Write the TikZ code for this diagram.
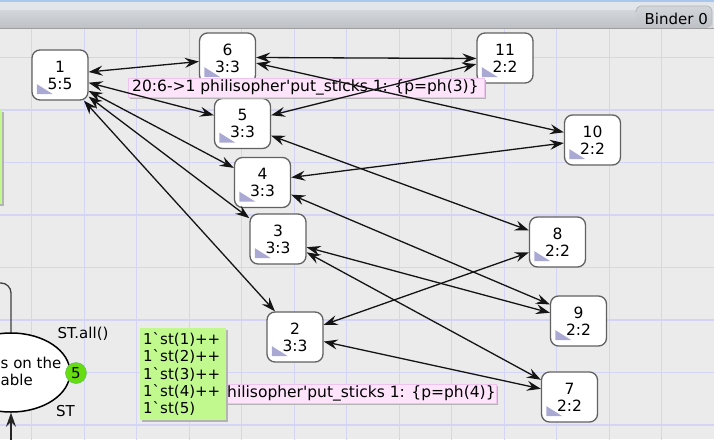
\documentclass[tikz,border=0pt]{standalone}
\usepackage{fontspec}
\newfontfamily\dv{DejaVu Sans}
\usetikzlibrary{arrows.meta,calc,shapes.geometric}
\definecolor{canvas}{HTML}{EBEBEB}
\definecolor{gridc}{HTML}{D4D4F7}
\definecolor{tri}{HTML}{A9A9D4}
\definecolor{pinkf}{HTML}{FDE4FB}
\definecolor{pinkd}{HTML}{EEC4EE}
\definecolor{greenf}{HTML}{C2F98F}
\definecolor{tok}{HTML}{66DD11}
\definecolor{shad}{HTML}{B4B4B4}
\definecolor{barlight}{HTML}{E2E6EB}
\definecolor{bartop}{HTML}{D3D7DB}
\definecolor{barbot}{HTML}{BDC1C6}
\definecolor{bluel}{HTML}{A9C7EC}
\newcommand\mkstate[4]{%
  \node[state] (#1) at (#2,#3) {#4};
  \fill[tri] ($(#1.south west)+(5.5,-6.5)$) -- ++(0,-10) -- ++(16,10) -- cycle;}
\begin{document}
\begin{tikzpicture}[x=1pt,y=-1pt,
  state/.style={draw=black!62, line width=1.3pt, fill=white, rounded corners=8pt,
    minimum width=56pt, minimum height=50pt, inner sep=0pt, align=center,
    font=\dv\fontsize{15.5}{17}\selectfont},
  tip/.tip={Stealth[length=14pt,width=10pt,inset=5pt]},
  link/.style={draw=black!92, line width=1.3pt, tip-tip},
  txt/.style={inner sep=0pt, font=\dv\fontsize{15}{17.3}\selectfont},
  lbl/.style={inner sep=0pt, font=\dv\fontsize{15.5}{17}\selectfont}]
\useasboundingbox (0,0) rectangle (714,439);
\clip (0,0) rectangle (714,439);
% canvas and grid
\fill[canvas] (0,0) rectangle (714,439);
\foreach \i in {0,...,13} {\draw[gridc, line width=1.4pt] ({31.7+52.5*\i},28) -- ++(0,420);}
\foreach \j in {1,...,8} {\draw[gridc, line width=1.4pt] (0,{5+52.5*\j}) -- ++(714,0);}
% title bar
\fill[barlight] (0,0) rectangle (714,28);
\fill[bluel] (0,0) rectangle (714,2);
\shade[top color=bartop, bottom color=barbot] (0,10) rectangle (640,28);
\shade[top color=bartop, bottom color=barbot, rounded corners=5pt] (636,28) -- (636,6) -- (712,6) -- (712,28) -- cycle;
\draw[black!30, line width=0.7pt, rounded corners=5pt] (636,10) -- (636,6) -- (712,6) -- (712,28);
\draw[black!38, line width=0.8pt] (0,28) -- (714,28);
\node[txt, anchor=east] (binder) at (708,19) {Binder 0};
% left strip of a box outside the view
\fill[shad] (-5,112) rectangle (4,206);
\fill[greenf] (-5,110) rectangle (2,204);
% place on the left
\draw[black!75, line width=1.3pt, rounded corners=10pt] (11,333) -- (11,283) -- (-10,283);
\coordinate (below) at (11,445);
\node[draw=black, line width=1.5pt, fill=white, ellipse, minimum width=118pt, minimum height=79pt, inner sep=0pt] (place) at (11,372.5) {};
\draw[black!85, line width=1.2pt, -tip] (below) -- (place.south);
\node[txt, anchor=west] (pl1) at (0.5,363) {s on the};
\node[txt, anchor=west] (pl2) at (0.5,380) {able};
\node[circle, fill=tok, draw=green!55!black!60, line width=0.5pt, minimum size=21pt, inner sep=0pt, font=\dv\fontsize{15}{17}\selectfont] (token) at (76,373) {5};
\node[txt] (stall) at (83,334) {ST.all()};
\node[txt] (st) at (65.5,411) {ST};
% states
\mkstate{n1}{60}{75}{1\\5:5}
\mkstate{n6}{227.5}{58}{6\\3:3}
\mkstate{n11}{505}{58}{11\\2:2}
\mkstate{n5}{242.5}{123.5}{5\\3:3}
\mkstate{n10}{592.5}{140}{10\\2:2}
\mkstate{n4}{262.5}{182.5}{4\\3:3}
\mkstate{n3}{278}{239}{3\\3:3}
\mkstate{n8}{557.5}{242}{8\\2:2}
\mkstate{n2}{295}{337}{2\\3:3}
\mkstate{n9}{578.5}{321}{9\\2:2}
\mkstate{n7}{569.5}{397}{7\\2:2}
% first transition label
\fill[shad] (130,80) rectangle (486,99);
\draw[pinkd, fill=pinkf, line width=0.8pt] (128,78) rectangle (484,97);
\node[lbl, anchor=west] (lab1) at (132,87.5) {20:6->1 philisopher'put\_sticks 1: \{p=ph(3)\}};
% connectors
\draw[link] (n1.6) -- (n6.187);
\draw[link] (n1.-15) -- (n5.164);
\draw[link] (n1.-29) -- (n4.153);
\draw[link] (n1.-37) -- (n3.144);
\draw[link] (n1.-47) -- (n2.128);
\draw[link] (n6.1) -- (n11.181);
\draw[link] (n6.-10) -- (n10.165);
\draw[link] (n11.-168) -- (n5.16);
\draw[link] (n10.-174) -- (n4.10);
\draw[link] (n5.-23) -- (n8.158);
\draw[link] (n4.-23) -- (n9.150);
\draw[link] (n3.-16) -- (n9.164);
\draw[link] (n3.-25) -- (n7.149);
\draw[link] (n2.23) -- (n8.-160);
\draw[link] (n2.-9) -- (n7.164);
% second transition label, partly covered
\fill[shad] (202,386) rectangle (498,405);
\draw[pinkd, fill=pinkf, line width=0.8pt] (200,384) rectangle (496,403);
\node[lbl, anchor=west] (lab2) at (227,393.5) {hilisopher'put\_sticks 1: \{p=ph(4)\}};
% marking box
\fill[shad] (142,330) rectangle (228,422);
\fill[greenf] (140,328) rectangle (226,420);
\foreach \t [count=\k from 0] in {1`st(1)++,1`st(2)++,1`st(3)++,1`st(4)++,1`st(5)}
  {\node[txt, anchor=west] (m\k) at (143,{339.5+17.3*\k}) {\t};}
\end{tikzpicture}
\end{document}
